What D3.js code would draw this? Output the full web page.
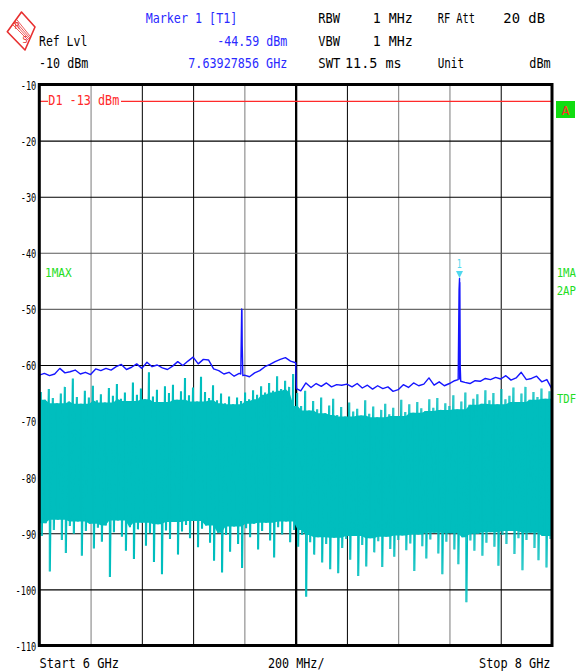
<!DOCTYPE html>
<html><head><meta charset="utf-8">
<script src="https://cdn.jsdelivr.net/npm/d3@7"></script>
<style>body{margin:0;background:#fff}svg{display:block}</style>
</head><body>
<svg id="c" width="579" height="671"></svg>
<script>
// ---------- data ----------
const yTicks = [-10,-20,-30,-40,-50,-60,-70,-80,-90,-100,-110];
const fTicks = [6.2,6.4,6.6,6.8,7.0,7.2,7.4,7.6,7.8];
const fStart = 6, fStop = 8;
const displayLine = -13;
const marker = {f: 7.63927856, v: -44.59};

// Trace 1 (max hold, blue): 101 samples, 20 MHz apart
const blueVals = [
 -61.8,-61.5,-61.9,-61.6,-60.6,-61.4,-61.2,-60.9,-61.6,-61.3,
 -61.7,-60.7,-61.0,-60.6,-60.9,-60.3,-59.9,-60.8,-60.4,-59.8,
 -60.6,-59.5,-60.3,-60.0,-60.5,-60.8,-60.2,-59.4,-60.1,-59.3,
 -58.6,-59.8,-59.0,-59.1,-60.7,-61.0,-61.6,-61.3,-62.0,-61.5,
 -61.8,-62.1,-61.4,-61.0,-60.3,-59.9,-59.4,-59.0,-58.7,-59.3,
 -59.6,-64.6,-63.2,-64.0,-63.3,-63.8,-63.2,-63.9,-63.5,-63.6,
 -63.4,-63.9,-63.3,-64.1,-63.6,-64.3,-63.7,-64.2,-63.9,-64.7,
 -64.4,-63.5,-64.0,-63.2,-63.7,-63.4,-62.3,-63.6,-63.0,-63.7,
 -63.3,-62.8,-62.5,-63.1,-63.3,-62.8,-62.9,-62.4,-62.6,-62.2,
 -62.5,-61.9,-62.7,-62.3,-61.3,-62.6,-62.4,-62.0,-63.0,-62.6,
 -64.3];
const blueExtra = [
 {f:6.786,v:-61.6},{f:6.7895,v:-50.0},{f:6.7905,v:-50.3},{f:6.7915,v:-56.5},{f:6.794,v:-61.9},
 {f:7.003,v:-64.2},
 {f:7.634,v:-62.6},{f:7.6375,v:-46.6},{f:7.6393,v:-44.59},{f:7.6405,v:-45.3},{f:7.642,v:-60.3},{f:7.644,v:-62.9}
];

// Trace 2 (TDF, cyan): 128 sample pairs (peak up / peak down)
const tdfHighLeft = [
 -64.8,-66.2,-64.3,-65.9,-66.8,-65.1,-63.9,-66.5,-62.4,-65.7,-66.9,-64.6,-65.8,-63.7,-66.3,-65.2,
 -66.7,-64.1,-65.5,-63.4,-66.0,-64.9,-66.4,-63.1,-65.3,-64.2,-66.1,-61.3,-65.6,-64.4,-66.6,-63.8,
 -65.0,-63.5,-66.2,-64.7,-62.3,-65.4,-64.0,-66.5,-62.1,-64.8,-65.9,-63.6,-66.3,-65.1,-66.8,-65.6,
 -67.0,-65.8,-66.4,-64.9,-66.1,-64.5,-65.3,-63.8,-64.9,-63.2,-64.6,-62.0,-64.3,-62.8,-63.9,-61.6];
const tdfLowLeft = [
 -90.5,-88.2,-96.8,-89.4,-87.6,-91.2,-93.5,-88.7,-90.1,-87.9,-94.0,-89.6,-88.3,-92.7,-89.0,-91.5,
 -88.6,-97.8,-89.8,-87.7,-90.6,-93.1,-88.9,-94.6,-89.3,-88.1,-92.2,-90.0,-95.1,-88.4,-97.3,-89.5,
 -91.0,-88.0,-93.8,-89.7,-88.5,-90.9,-87.8,-92.5,-89.2,-88.6,-91.7,-94.9,-89.9,-97.0,-90.3,-93.3,
 -88.8,-91.9,-96.2,-89.1,-90.7,-88.3,-92.9,-89.6,-88.1,-91.3,-94.3,-88.9,-90.2,-87.9,-91.6,-89.4];
const tdfHighRight = [
 -65.0,-67.3,-64.6,-68.1,-66.4,-67.9,-65.8,-68.6,-67.2,-66.0,-68.9,-67.5,-69.2,-66.7,-68.3,-67.8,
 -69.0,-66.3,-68.7,-67.4,-69.3,-68.0,-66.9,-68.8,-67.6,-69.1,-66.2,-68.4,-67.0,-68.5,-66.6,-67.7,
 -68.2,-66.1,-67.6,-65.9,-68.0,-66.8,-67.3,-65.4,-67.9,-66.5,-64.9,-67.1,-66.0,-65.2,-66.9,-64.5,
 -66.3,-65.0,-67.0,-64.3,-66.1,-65.5,-64.0,-66.6,-65.1,-63.9,-66.2,-64.8,-65.7,-64.2,-66.0,-64.7];
const tdfLowRight = [
 -92.4,-90.3,-101.3,-91.6,-93.8,-90.7,-95.2,-91.9,-96.4,-90.8,-97.1,-92.6,-91.0,-94.7,-90.5,-97.6,
 -92.1,-95.9,-90.9,-93.4,-91.4,-96.0,-90.6,-92.8,-94.2,-91.2,-90.4,-93.0,-91.8,-96.7,-90.2,-92.3,
 -94.5,-91.1,-89.9,-93.6,-97.3,-91.5,-90.0,-92.9,-95.5,-90.7,-102.3,-91.3,-93.1,-90.1,-94.0,-91.7,
 -89.8,-92.4,-95.8,-90.3,-91.9,-89.6,-93.7,-90.9,-96.6,-91.2,-89.9,-92.6,-94.8,-90.5,-96.1,-91.0];

// ---------- layout / style ----------
const L = 39.3, R = 552, T = 84.5, B = 645.5;
const BLUE = "#1515ff", TXTBLUE = "#2a2aff", CYAN = "#00bebe", RED = "#ff2a2a", GREEN = "#22dd22";
const MONO = "'DejaVu Sans Mono', 'Liberation Mono', monospace";

const svg = d3.select("#c");
svg.append("rect").attr("width",579).attr("height",671).attr("fill","#fff");

const x = d3.scaleLinear().domain([fStart,fStop]).range([L,R]);
const y = d3.scaleLinear().domain([-110,-10]).range([B,T]);

function txt(s, x0, x1, base, color, fs) {
  return svg.append("text").text(s)
    .attr("x", x0).attr("y", base)
    .attr("textLength", x1 - x0).attr("lengthAdjust","spacingAndGlyphs")
    .attr("font-family", MONO).attr("font-size", fs).attr("fill", color);
}

// ---------- grid ----------
const vShade = ["#7a7a7a","#000","#000","#7a7a7a","#000","#000","#7a7a7a","#7a7a7a","#000"];
const gx = svg.append("g").attr("transform",`translate(0,${B})`)
  .call(d3.axisBottom(x).tickValues(fTicks).tickSize(-(B-T)).tickFormat(""));
gx.select(".domain").remove();
gx.selectAll(".tick line").attr("stroke",(d,i)=>vShade[i]).attr("stroke-width",(d)=>Math.abs(d-7)<1e-9?2.3:1);

const hShade = {"-20":"#000","-30":"#000","-40":"#5a5a5a","-50":"#6a6a6a","-60":"#000","-70":"#000","-80":"#000","-90":"#000","-100":"#000"};
const gy = svg.append("g").attr("transform",`translate(${L},0)`)
  .call(d3.axisLeft(y).tickValues(yTicks.slice(1,-1)).tickSize(-(R-L)).tickFormat(""));
gy.select(".domain").remove();
gy.selectAll(".tick line").attr("stroke",d=>hShade[String(d)]).attr("stroke-width",1.1);

// ---------- cyan trace ----------
const highs = tdfHighLeft.concat(tdfHighRight);
const lows = tdfLowLeft.concat(tdfLowRight);
const n = highs.length;
const fC = i => fStart + (i + 0.5) * (fStop - fStart) / n;
const fZ = j => fStart + (j + 0.5) * (fStop - fStart) / (2*n);
const W = 2;
const core = highs.map((h,i) => {
  const a = Math.max(0,i-W), b = Math.min(n-1,i+W);
  return {f: fC(i), top: d3.min(highs.slice(a,b+1)), bot: d3.max(lows.slice(a,b+1))};
});
core.unshift({f: fStart, top: core[0].top, bot: core[0].bot});
core.push({f: fStop, top: core[core.length-1].top, bot: core[core.length-1].bot});
svg.append("path").datum(core)
  .attr("d", d3.area().x(d=>x(d.f)).y0(d=>y(d.bot)).y1(d=>y(d.top)))
  .attr("fill", CYAN);
// the trace itself: alternating peak-up / peak-down samples
const zig = [];
highs.forEach((h,i)=>{ zig.push({f: fZ(2*i), v: h}); zig.push({f: fZ(2*i+1), v: lows[i]}); });
svg.append("path").datum(zig)
  .attr("d", d3.line().x(d=>x(d.f)).y(d=>y(d.v)))
  .attr("stroke", CYAN).attr("stroke-width",1.1).attr("fill","none");
svg.append("path")
  .attr("d", highs.map((h,i)=>`M${x(fC(i))},${y(h)}V${y(lows[i])}`).join(""))
  .attr("stroke", CYAN).attr("stroke-width",1.1).attr("fill","none");

// ---------- blue trace ----------
const bluePts = blueVals.map((v,i)=>({f: fStart + i*(fStop-fStart)/(blueVals.length-1), v}))
  .concat(blueExtra).sort((a,b)=>a.f-b.f);
svg.append("path").datum(bluePts)
  .attr("d", d3.line().x(d=>x(d.f)).y(d=>y(d.v)))
  .attr("fill","none").attr("stroke",BLUE).attr("stroke-width",1.4).attr("stroke-linejoin","round");

// ---------- display line D1 ----------
svg.append("line").attr("x1",L).attr("x2",48).attr("y1",y(displayLine)).attr("y2",y(displayLine))
  .attr("stroke",RED).attr("stroke-width",1.2);
svg.append("line").attr("x1",121).attr("x2",R).attr("y1",y(displayLine)).attr("y2",y(displayLine))
  .attr("stroke",RED).attr("stroke-width",1.2);
txt("D1 -13 dBm", 48.3, 119.3, y(displayLine)+3.8, RED, 14.5);

// ---------- marker ----------
const mx = x(marker.f), my = y(marker.v);
svg.append("path").attr("d",`M${mx-3.5},${my-7.5}L${mx+3.5},${my-7.5}L${mx},${my-0.5}Z`).attr("fill","#4fd8ee");
txt("1", mx-2.8, mx+2.2, my-10.3, "#4fd8ee", 12);

// ---------- border ----------
svg.append("rect").attr("x",L).attr("y",T).attr("width",R-L).attr("height",B-T)
  .attr("fill","none").attr("stroke","#000").attr("stroke-width",3);

// ---------- y labels ----------
const ya = svg.append("g").attr("transform",`translate(${L-3},0)`)
  .call(d3.axisLeft(y).tickValues(yTicks).tickSize(0).tickPadding(0).tickFormat(d=>String(d)));
ya.select(".domain").remove();
ya.selectAll(".tick text")
  .attr("dy",null).attr("y",4.8)
  .attr("font-family",MONO).attr("font-size",13).attr("fill","#000")
  .attr("textLength",d=>String(d).length*5.2).attr("lengthAdjust","spacingAndGlyphs");

// ---------- header ----------
txt("Marker 1 [T1]", 145.7, 237.3, 23.3, TXTBLUE, 14.5);
txt("Ref Lvl", 39, 87.3, 46.3, "#000", 14.5);
txt("-44.59 dBm", 217.3, 287.3, 46.3, TXTBLUE, 14.5);
txt("-10 dBm", 39, 88.3, 68.3, "#000", 14.5);
txt("7.63927856 GHz", 188.3, 287.3, 68.3, TXTBLUE, 14.5);
txt("RBW", 318.3, 340, 23.3, "#000", 14.5);
txt("1 MHz", 372.7, 412.7, 23.3, "#000", 14.5);
txt("RF Att", 437.7, 475, 23.3, "#000", 14.5);
txt("20 dB", 503.3, 545, 23.3, "#000", 14.5);
txt("VBW", 318.3, 340, 45.8, "#000", 14.5);
txt("1 MHz", 372.7, 412.7, 45.8, "#000", 14.5);
txt("SWT", 318.3, 340.5, 68.3, "#000", 14.5);
txt("11.5 ms", 345, 401.7, 68.3, "#000", 14.5);
txt("Unit", 437.7, 464, 68.3, "#000", 14.5);
txt("dBm", 529.3, 550.7, 68.3, "#000", 14.5);

// ---------- footer ----------
txt("Start 6 GHz", 39.5, 119, 668, "#000", 14.5);
txt("200 MHz/", 268, 324.5, 668, "#000", 14.5);
txt("Stop 8 GHz", 479, 550.5, 668, "#000", 14.5);

// ---------- side labels ----------
txt("1MAX", 45, 71.7, 277.3, GREEN, 12.3);
txt("1MA", 556.7, 576, 277, GREEN, 12.3);
txt("2AP", 556.7, 576, 295, GREEN, 12.3);
txt("TDF", 557, 576, 402.7, GREEN, 12.3);
svg.append("rect").attr("x",556).attr("y",101).attr("width",19).attr("height",17).attr("fill","#11dd11");
txt("A", 561.5, 569.5, 114.5, RED, 13);

// ---------- R&S logo ----------
const logo = svg.append("g");
logo.append("path").attr("d","M21.5,12 L35,27 L25,50 L7.3,31.7 Z")
  .attr("fill","#fff").attr("stroke","#e83030").attr("stroke-width",1.6).attr("stroke-linejoin","round");
[0,1.6,3.2,4.8].forEach(o=>{
  logo.append("line").attr("x1",12+o).attr("y1",24-o*0.9).attr("x2",28+o*0.6).attr("y2",40-o*0.6)
    .attr("stroke","#e83030").attr("stroke-width",0.8);
});
logo.append("text").text("R").attr("x",14.5).attr("y",29).attr("font-family","'DejaVu Sans'")
  .attr("font-size",8).attr("fill","#e83030");
logo.append("text").text("S").attr("x",22.5).attr("y",43).attr("font-family","'DejaVu Sans'")
  .attr("font-size",8).attr("fill","#e83030");
</script>
</body></html>
